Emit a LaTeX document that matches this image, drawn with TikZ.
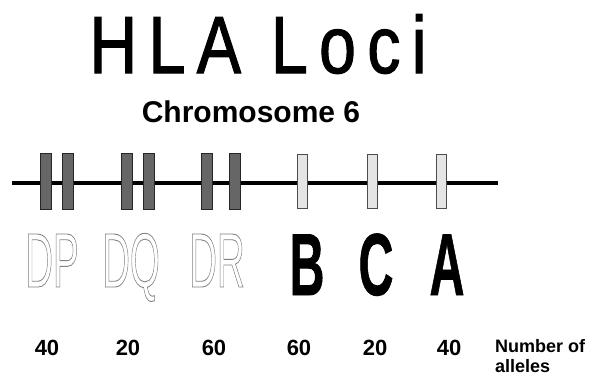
\documentclass[tikz,border=0pt]{standalone}
\usepackage{fontspec}
\setmainfont{Liberation Sans}
\usepackage{graphicx}
\newcommand{\hollow}[1]{\special{pdf:literal direct 1 Tr 0.9 w}#1\special{pdf:literal direct 0 Tr}}
\tikzset{
  darkbar/.style={draw=black!85,fill=black!60,line width=.8pt,minimum width=11pt,minimum height=56pt,inner sep=0pt},
  lightbar/.style={draw=black!70,fill=black!10,line width=.8pt,minimum width=10pt,minimum height=54pt,inner sep=0pt},
  classII/.style={anchor=base,inner sep=0pt,text=black!50,font=\fontsize{77}{77}\selectfont},
  classI/.style={anchor=base,inner sep=0pt,font=\fontsize{88}{88}\selectfont\bfseries\addfontfeature{FakeBold=1}},
  count/.style={anchor=base,inner sep=0pt,font=\fontsize{22}{22}\selectfont\bfseries},
}
\begin{document}
\begin{tikzpicture}[x=1pt,y=-1pt]
  \useasboundingbox (0,0) rectangle (592,378);
  \node[anchor=base,inner sep=0pt,font=\fontsize{81}{81}\selectfont\addfontfeature{LetterSpace=17,FakeBold=1.5}] (title) at (258,73) {\scalebox{.82}[1]{HLA Loci}};
  \node[anchor=base,inner sep=0pt,font=\fontsize{30}{30}\selectfont\bfseries] (chr) at (251,122) {Chromosome 6};
  \coordinate (pter) at (12,183);
  \coordinate (qter) at (498,183);
  \draw[line width=4.5pt] (pter) -- (qter);
  \node[darkbar] (dpa) at (46,181.5) {};
  \node[darkbar] (dpb) at (68,181.5) {};
  \node[darkbar] (dqa) at (126.5,181.5) {};
  \node[darkbar] (dqb) at (149,181.5) {};
  \node[darkbar] (dra) at (207,181.5) {};
  \node[darkbar] (drb) at (234.5,181.5) {};
  \node[lightbar] (bbar) at (302.5,181) {};
  \node[lightbar] (cbar) at (372,181) {};
  \node[lightbar] (abar) at (441.5,181) {};
  \node[classII] (dp) at (52,287) {\scalebox{.5}[1]{\hollow{DP}}};
  \node[classII] (dq) at (131,287) {\scalebox{.5}[1]{\hollow{DQ}}};
  \node[classII] (dr) at (217,287) {\scalebox{.5}[1]{\hollow{DR}}};
  \node[classI] (b) at (307,295) {\scalebox{.55}[1]{B}};
  \node[classI] (c) at (376,295) {\scalebox{.55}[1]{C}};
  \node[classI] (a) at (447,295) {\scalebox{.55}[1]{A}};
  \node[count] (ndp) at (47,355) {40};
  \node[count] (ndq) at (128,355) {20};
  \node[count] (ndr) at (214,355) {60};
  \node[count] (nb) at (299,355) {60};
  \node[count] (nc) at (375,355) {20};
  \node[count] (na) at (449,355) {40};
  \node[anchor=north west,inner sep=0pt,align=left,font=\fontsize{18}{20}\selectfont\bfseries] (unit) at (495,339) {Number of\\alleles};
\end{tikzpicture}
\end{document}
